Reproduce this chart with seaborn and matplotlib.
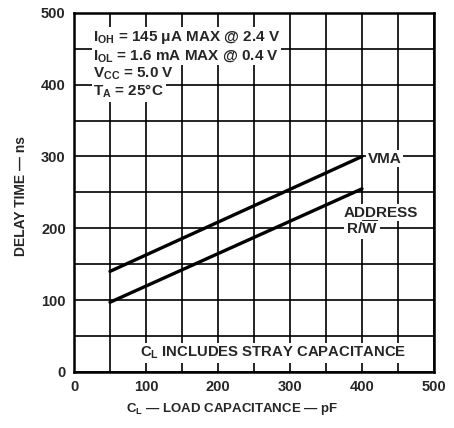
import matplotlib
matplotlib.use("Agg")
import matplotlib.pyplot as plt
import pandas as pd
import seaborn as sns

# load capacitance (pF) vs delay time (ns)
load_pf = [50, 400]
vma_ns = [140, 300]
address_ns = [97, 255]

x_ticks = [0, 100, 200, 300, 400, 500]
y_ticks = [0, 100, 200, 300, 400, 500]

sns.set_style("white")
plt.rcParams['font.family'] = ['Liberation Sans', 'DejaVu Sans']
plt.rcParams['font.weight'] = 'bold'
plt.rcParams['mathtext.fontset'] = 'custom'
plt.rcParams['mathtext.rm'] = 'Liberation Sans:bold'
plt.rcParams['mathtext.it'] = 'Liberation Sans:bold'
plt.rcParams['mathtext.bf'] = 'Liberation Sans:bold'

df = pd.DataFrame({
    "load": load_pf * 2,
    "delay": vma_ns + address_ns,
    "signal": ["VMA"] * len(load_pf) + ["ADDRESS"] * len(load_pf),
})

fig = plt.figure(figsize=(4.54, 4.28), dpi=100)
ax = fig.add_axes([0.163, 0.131, 0.793, 0.839])

sns.lineplot(data=df, x="load", y="delay", units="signal", estimator=None,
             color="black", linewidth=2.4, legend=False, ax=ax, zorder=3)

ax.set_xlim(0, 500)
ax.set_ylim(0, 500)
ax.set_xticks(x_ticks)
ax.set_yticks(y_ticks)
ax.set_xticks(range(0, 501, 50), minor=True)
ax.set_yticks(range(0, 501, 50), minor=True)
ax.grid(which="both", color="black", linewidth=1.2)
ax.tick_params(which="both", length=0, labelsize=10.5, pad=6)
for lab in ax.get_xticklabels() + ax.get_yticklabels():
    lab.set_fontweight("bold")
for sp in ax.spines.values():
    sp.set_linewidth(1.8)
    sp.set_color("black")

ax.set_xlabel(r"C$_\mathrm{L}$ — LOAD CAPACITANCE — pF", fontsize=9.5,
              fontweight="bold", ha="left", va="top")
ax.xaxis.set_label_coords(0.145, -0.082)
ax.set_ylabel("DELAY TIME — ns", fontsize=10, fontweight="bold")
ax.yaxis.set_label_coords(-0.128, 0.49)

box = dict(facecolor="white", edgecolor="none", pad=1.2)
fs = 11
cond = [r"I$_\mathrm{OH}$ = 145 μA MAX @ 2.4 V",
        r"I$_\mathrm{OL}$ = 1.6 mA MAX @ 0.4 V",
        r"V$_\mathrm{CC}$ = 5.0 V",
        r"T$_\mathrm{A}$ = 25°C"]
for i, s in enumerate(cond):
    ax.text(27, 461 - i * 25.5, s, fontsize=fs, fontweight="bold",
            va="baseline", ha="left", bbox=box, zorder=4)

ax.text(408, 291.5, "VMA", fontsize=fs, fontweight="bold", va="baseline",
        ha="left", bbox=box, zorder=4)
ax.text(374, 216, "ADDRESS", fontsize=fs, fontweight="bold", va="baseline",
        ha="left", bbox=box, zorder=4)
ax.text(378, 191, r"R/$\overline{\mathrm{W}}$", fontsize=fs, fontweight="bold",
        va="baseline", ha="left", bbox=box, zorder=4)
ax.text(92, 21, r"C$_\mathrm{L}$ INCLUDES STRAY CAPACITANCE", fontsize=10.7,
        fontweight="bold", va="baseline", ha="left", bbox=box, zorder=4)

fig.savefig("out.png", dpi=100)
